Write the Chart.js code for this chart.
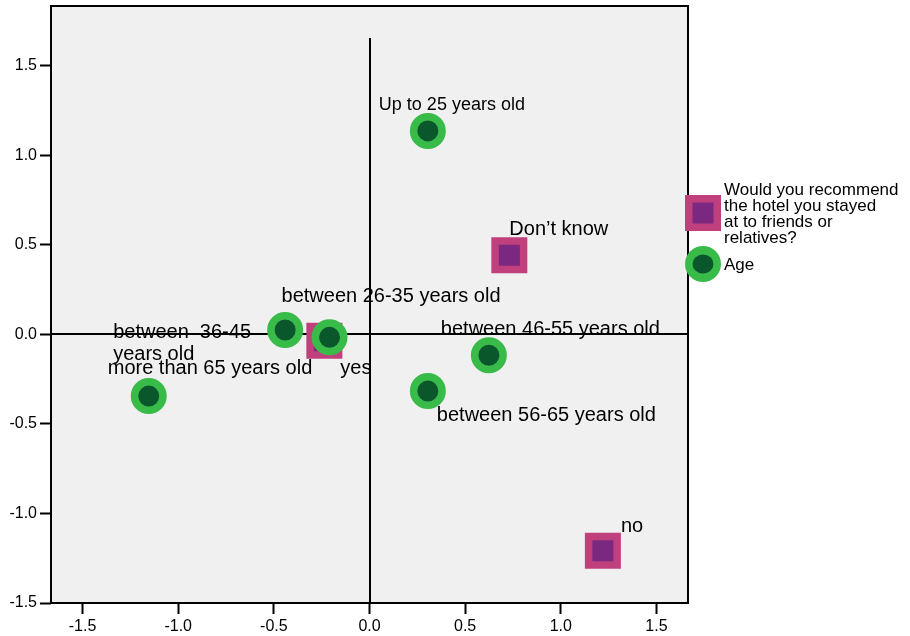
<!DOCTYPE html>
<html>
<head>
<meta charset="utf-8">
<script src="https://cdn.jsdelivr.net/npm/chart.js@4"></script>
<style>
html,body{margin:0;padding:0;background:#fff;}
#wrap{width:910px;height:636px;position:relative;}
</style>
</head>
<body>
<div id="wrap"><canvas id="c"></canvas></div>
<script>
// ---- data ----
const ageLabels = ["Up to 25 years old", "between 26-35 years old", "between  36-45|years old", "between 46-55 years old", "between 56-65 years old", "more than 65 years old"];
const ageX = [0.305, -0.209, -0.441, 0.624, 0.305, -1.154];
const ageY = [1.137, -0.016, 0.025, -0.116, -0.316, -0.344];

const recLabels = ["Don\u2019t know", "yes", "no"];
const recX = [0.731, -0.236, 1.220];
const recY = [0.443, -0.035, -1.208];

const xTicks = [-1.5, -1.0, -0.5, 0.0, 0.5, 1.0, 1.5];
const yTicks = [-1.5, -1.0, -0.5, 0.0, 0.5, 1.0, 1.5];

const legendTitles = ["Would you recommend|the hotel you stayed|at to friends or|relatives?", "Age"];

// label placement (pixel offsets from point centre to text left / baseline)
const ageLabelOffsets = [[-49, -21, 18], [-48, -35, 20], [-172, 8, 20], [-48, -20, 20], [9, 30, 20], [-41, -22, 20]];
const recLabelOffsets = [[0, -20, 20], [16, 33, 20], [18, -19, 20]];

// ---- styles ----
const GREEN = '#39bb4a', DKGREEN = '#0a572c', PINK = '#c0407e', PURPLE = '#7a2880';
const FONT = 'Arial, "Liberation Sans", sans-serif';

const fmt = v => (Math.abs(v) < 1e-9 ? 0 : v).toFixed(1);

const decor = {
  id: 'decor',
  beforeDraw(chart) {
    const {ctx, chartArea: a} = chart;
    ctx.save();
    ctx.fillStyle = '#f0f0f0';
    ctx.fillRect(a.left, a.top, a.right - a.left, a.bottom - a.top);
    ctx.restore();
  },
  beforeDatasetsDraw(chart) {
    const {ctx, chartArea: a, scales: {x, y}} = chart;
    ctx.save();
    ctx.strokeStyle = '#000';
    ctx.lineWidth = 2;
    ctx.beginPath();
    const x0 = Math.round(x.getPixelForValue(0));
    ctx.moveTo(x0, y.getPixelForValue(1.656));
    ctx.lineTo(x0, a.bottom);
    const y0 = Math.round(y.getPixelForValue(0));
    ctx.moveTo(a.left, y0);
    ctx.lineTo(a.right, y0);
    ctx.stroke();
    ctx.restore();
  },
  afterDatasetsDraw(chart) {
    const {ctx, chartArea: a, scales: {x, y}} = chart;
    ctx.save();
    // labels
    ctx.fillStyle = '#000';
    ctx.textAlign = 'left';
    ctx.textBaseline = 'alphabetic';
    const drawLbl = (txt, px, py, off) => {
      ctx.font = off[2] + 'px ' + FONT;
      txt.split('|').forEach((t, i) => ctx.fillText(t, px + off[0], py + off[1] + i * 22));
    };
    ageLabels.forEach((t, i) => drawLbl(t, x.getPixelForValue(ageX[i]), y.getPixelForValue(ageY[i]), ageLabelOffsets[i]));
    recLabels.forEach((t, i) => drawLbl(t, x.getPixelForValue(recX[i]), y.getPixelForValue(recY[i]), recLabelOffsets[i]));
    // frame
    ctx.strokeStyle = '#000';
    ctx.lineWidth = 2;
    ctx.strokeRect(a.left, a.top, a.right - a.left, a.bottom - a.top);
    // legend
    const lx = a.right + 15;
    ctx.fillStyle = PINK;
    ctx.fillRect(lx - 18, 195, 36, 36);
    ctx.fillStyle = PURPLE;
    ctx.fillRect(lx - 10.5, 202.5, 21, 21);
    ctx.beginPath();
    ctx.arc(lx, 264, 18, 0, Math.PI * 2);
    ctx.fillStyle = GREEN;
    ctx.fill();
    ctx.beginPath();
    ctx.ellipse(lx, 264, 10.5, 9.5, 0, 0, Math.PI * 2);
    ctx.fillStyle = DKGREEN;
    ctx.fill();
    ctx.fillStyle = '#000';
    ctx.font = '17px ' + FONT;
    legendTitles[0].split('|').forEach((t, i) => ctx.fillText(t, lx + 21, 195 + i * 16));
    ctx.fillText(legendTitles[1], lx + 21, 270);
    ctx.restore();
  }
};

const tickFont = {family: FONT, size: 16};

new Chart(document.getElementById('c'), {
  type: 'scatter',
  data: {
    datasets: [
      {
        label: 'Age',
        data: ageX.map((v, i) => ({x: v, y: ageY[i]})),
        pointStyle: 'circle',
        radius: 14.25,
        borderWidth: 7.5,
        backgroundColor: DKGREEN,
        borderColor: GREEN,
        order: 0
      },
      {
        label: 'Would you recommend the hotel you stayed at to friends or relatives?',
        data: recX.map((v, i) => ({x: v, y: recY[i]})),
        pointStyle: 'rect',
        radius: 20.15,
        borderWidth: 7.5,
        backgroundColor: PURPLE,
        borderColor: PINK,
        order: 1
      }
    ]
  },
  options: {
    responsive: true,
    maintainAspectRatio: false,
    animation: false,
    events: [],
    layout: {autoPadding: false, padding: {top: 6, right: 222, left: 0, bottom: 0}},
    plugins: {legend: {display: false}, tooltip: {enabled: false}},
    scales: {
      x: {
        type: 'linear',
        min: -1.665,
        max: 1.665,
        afterBuildTicks: s => { s.ticks = xTicks.map(v => ({value: v})); },
        afterFit: s => { s.height = 33; s.paddingLeft = 0; s.paddingRight = 0; s.paddingTop = 0; s.paddingBottom = 0; },
        ticks: {font: tickFont, color: '#000', padding: 3, callback: v => fmt(v), maxRotation: 0, autoSkip: false},
        grid: {drawOnChartArea: false, drawTicks: true, tickLength: 11, tickColor: '#000', tickWidth: 2},
        border: {display: false}
      },
      y: {
        type: 'linear',
        min: -1.5,
        max: 1.835,
        afterBuildTicks: s => { s.ticks = yTicks.map(v => ({value: v})); },
        afterFit: s => { s.width = 51; s.paddingLeft = 0; s.paddingRight = 0; s.paddingTop = 0; s.paddingBottom = 0; },
        ticks: {font: tickFont, color: '#000', padding: 3, callback: v => fmt(v), autoSkip: false},
        grid: {drawOnChartArea: false, drawTicks: true, tickLength: 11, tickColor: '#000', tickWidth: 2},
        border: {display: false}
      }
    }
  },
  plugins: [decor]
});
</script>
</body>
</html>
